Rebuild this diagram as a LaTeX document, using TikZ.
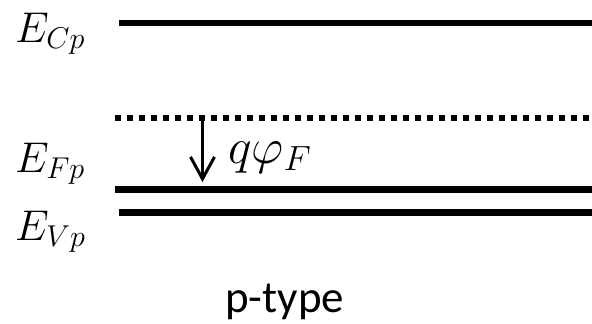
\RequirePackage{fix-cm}
\documentclass[tikz,border=0pt]{standalone}
\usepackage{amsmath}
\usepackage{fontspec}
\setmainfont{Carlito}
\usepackage{tikz}
\usetikzlibrary{arrows.meta,positioning}

\begin{document}
\begin{tikzpicture}[
  x=1pt, y=-1pt,
  levelLabel/.style={anchor=base west, inner sep=0pt, font=\fontsize{43}{50}\selectfont},
  level/.style={line width=6.3pt, draw=black},
  midLevel/.style={line width=6pt, draw=black, dash pattern=on 6pt off 6pt},
  stepArrow/.style={line width=3pt, draw=black, -{Straight Barb[length=22pt,width=24pt,line width=3pt]}}
]
  \useasboundingbox (0,0) rectangle (592,324);

  % band labels
  \node[levelLabel] (labelC) at (15,42) {$E_{Cp}$};
  \node[levelLabel] (labelF) at (15,172) {$E_{Fp}$};
  \node[levelLabel] (labelV) at (15,240) {$E_{Vp}$};

  % level end points
  \coordinate (cLeft) at (119,23);    \coordinate (cRight) at (592,23);
  \coordinate (iLeft) at (115,118);   \coordinate (iRight) at (592,118);
  \coordinate (fLeft) at (115,189.5); \coordinate (fRight) at (592,189.5);
  \coordinate (vLeft) at (119,212.5); \coordinate (vRight) at (592,212.5);

  \draw[level] (cLeft) -- (cRight);
  \draw[midLevel] (iLeft) -- (iRight);
  \draw[level] (fLeft) -- (fRight);
  \draw[level] (vLeft) -- (vRight);

  % potential step
  \coordinate (arrowTop) at (202.5,115);
  \coordinate (arrowTip) at (202.5,182);
  \draw[stepArrow] (arrowTop) -- (arrowTip);
  \node[anchor=base west, inner sep=0pt, font=\fontsize{50}{56}\selectfont]
    (potential) at (228,163) {$q\varphi_F$};

  \node[anchor=base west, inner sep=0pt, font=\fontsize{45}{52}\selectfont]
    (typeLabel) at (225,312) {p-type};
\end{tikzpicture}
\end{document}
